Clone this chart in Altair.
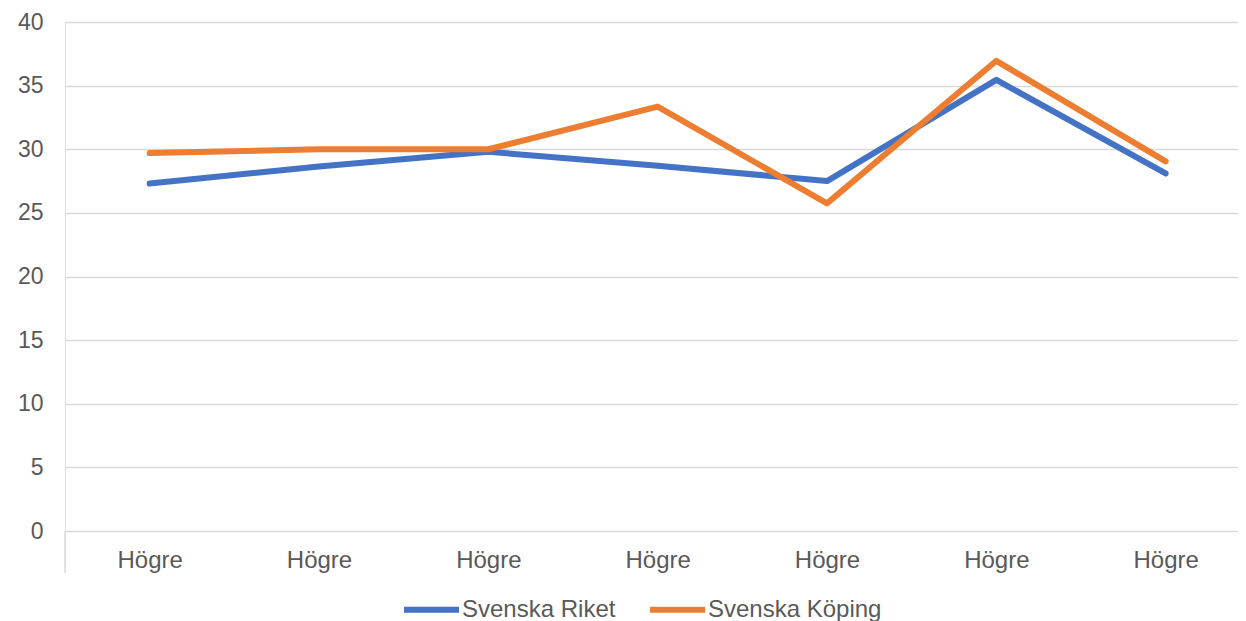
import json
import altair as alt
import pandas as pd

# ---- data ----
categories = ["Högre", "Högre", "Högre", "Högre", "Högre", "Högre", "Högre"]
positions = [0, 1, 2, 3, 4, 5, 6]
series_names = ["Svenska Riket", "Svenska Köping"]
riket = [27.3, 28.65, 29.8, 28.7, 27.5, 35.45, 28.1]
koping = [29.7, 30.0, 30.0, 33.35, 25.75, 36.95, 29.05]
series_colors = ["#4472C4", "#ED7D31"]
y_ticks = [0, 5, 10, 15, 20, 25, 30, 35, 40]

rows = []
for name, vals in zip(series_names, [riket, koping]):
    for p, v in zip(positions, vals):
        rows.append({"idx": p, "serie": name, "value": v})
df = pd.DataFrame(rows)
edge = pd.DataFrame({"idx": [positions[0] - 0.5]})

FONT = "Liberation Sans"
TXT = "#595959"
GRID = "#D9D9D9"
W, H = 1173, 509
STEP = 169.33
x_dom = [-0.5, -0.5 + W / STEP]

label_expr = json.dumps(categories, ensure_ascii=False) + "[datum.value]"

x_enc = alt.X(
    "idx:Q",
    scale=alt.Scale(domain=x_dom, nice=False, zero=False),
    axis=alt.Axis(
        values=positions, labelExpr=label_expr, title=None, grid=False,
        domain=False, ticks=False, labelPadding=17, labelFontSize=24,
        labelColor=TXT, labelFont=FONT,
    ),
)
y_enc = alt.Y(
    "value:Q",
    scale=alt.Scale(domain=[0, 40], nice=False),
    axis=alt.Axis(
        values=y_ticks, title=None, domain=False, ticks=False, grid=True,
        gridColor=GRID, gridWidth=1.5, labelPadding=22, labelFontSize=23,
        labelColor=TXT, labelFont=FONT,
    ),
)
color_enc = alt.Color(
    "serie:N",
    scale=alt.Scale(domain=series_names, range=series_colors),
    legend=alt.Legend(
        title=None, orient="none", direction="horizontal",
        legendX=336, legendY=557, symbolType="stroke", symbolSize=3025,
        symbolStrokeWidth=6, labelFontSize=24, labelColor=TXT, labelFont=FONT,
        columnPadding=22, labelOffset=0, padding=0, labelLimit=0,
    ),
)

line_style = dict(strokeWidth=6, strokeCap="round", strokeJoin="round")

riket_layer = alt.Chart(df).transform_filter(
    alt.datum.serie == series_names[0]
).mark_line(**line_style).encode(x=x_enc, y=y_enc, color=color_enc)

koping_layer = alt.Chart(df).transform_filter(
    alt.datum.serie == series_names[1]
).mark_line(**line_style).encode(x=x_enc, y=y_enc, color=color_enc)

edge_rule = alt.Chart(edge).mark_rule(color=GRID, strokeWidth=1.5).encode(
    x=alt.X("idx:Q", scale=alt.Scale(domain=x_dom, nice=False, zero=False)),
    y=alt.value(H),
    y2=alt.value(H + 42),
)

chart = alt.layer(edge_rule, riket_layer, koping_layer).properties(
    width=W,
    height=H,
    autosize=alt.AutoSizeParams(type="none"),
    padding={"left": 57, "top": 14, "right": 0, "bottom": 90},
).configure_view(stroke=None).configure(background="white")

chart.save("out.html", embed_options={"renderer": "svg", "actions": False})
